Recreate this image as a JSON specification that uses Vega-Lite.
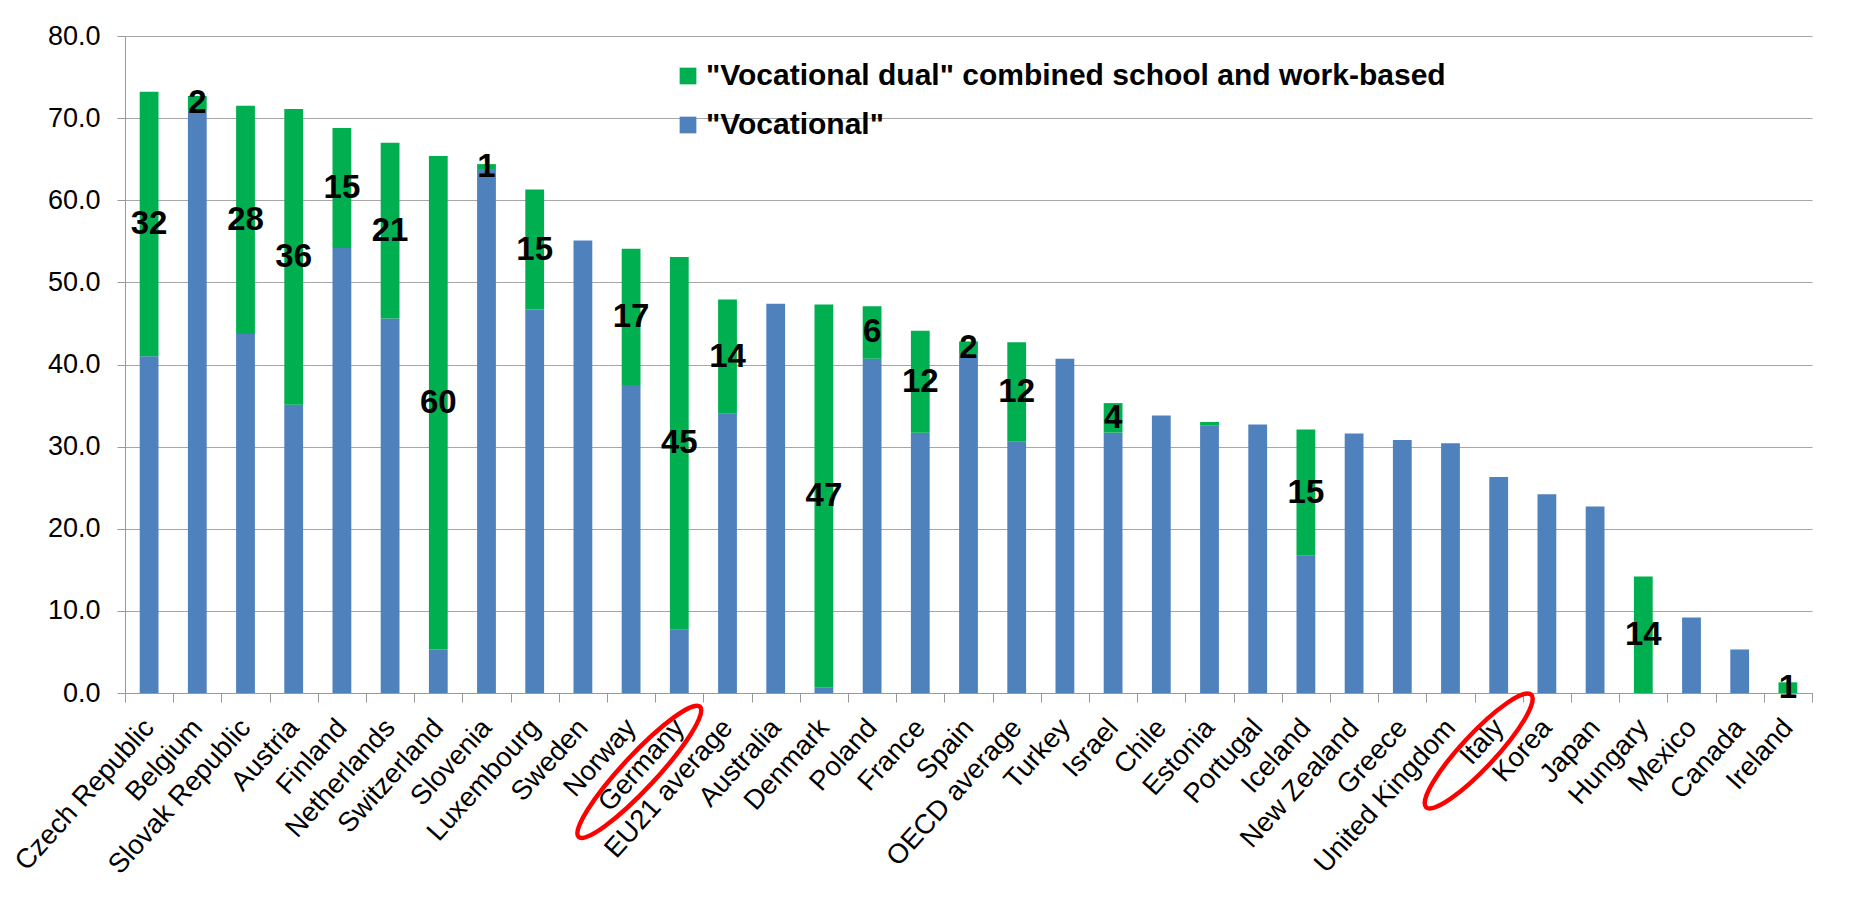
{
  "$schema": "https://vega.github.io/schema/vega-lite/v6.json",
  "autosize": {"type": "none"},
  "width": 1687,
  "height": 657,
  "padding": {"left": 125, "top": 36, "right": 49, "bottom": 230},
  "background": "white",
  "config": {
    "view": {"stroke": null},
    "font": "Liberation Sans",
    "legend": {"labelFont": "Liberation Sans"},
    "axis": {"labelFont": "Liberation Sans"}
  },
  "datasets": {
    "main": [
      {"country": "Czech Republic", "series": "\"Vocational\"", "value": 41.0},
      {"country": "Czech Republic", "series": "\"Vocational dual\" combined school and work-based", "value": 32.2},
      {"country": "Belgium", "series": "\"Vocational\"", "value": 70.9},
      {"country": "Belgium", "series": "\"Vocational dual\" combined school and work-based", "value": 1.8},
      {"country": "Slovak Republic", "series": "\"Vocational\"", "value": 43.7},
      {"country": "Slovak Republic", "series": "\"Vocational dual\" combined school and work-based", "value": 27.8},
      {"country": "Austria", "series": "\"Vocational\"", "value": 35.1},
      {"country": "Austria", "series": "\"Vocational dual\" combined school and work-based", "value": 36.0},
      {"country": "Finland", "series": "\"Vocational\"", "value": 54.2},
      {"country": "Finland", "series": "\"Vocational dual\" combined school and work-based", "value": 14.6},
      {"country": "Netherlands", "series": "\"Vocational\"", "value": 45.6},
      {"country": "Netherlands", "series": "\"Vocational dual\" combined school and work-based", "value": 21.4},
      {"country": "Switzerland", "series": "\"Vocational\"", "value": 5.3},
      {"country": "Switzerland", "series": "\"Vocational dual\" combined school and work-based", "value": 60.1},
      {"country": "Slovenia", "series": "\"Vocational\"", "value": 63.7},
      {"country": "Slovenia", "series": "\"Vocational dual\" combined school and work-based", "value": 0.7},
      {"country": "Luxembourg", "series": "\"Vocational\"", "value": 46.7},
      {"country": "Luxembourg", "series": "\"Vocational dual\" combined school and work-based", "value": 14.6},
      {"country": "Sweden", "series": "\"Vocational\"", "value": 55.1},
      {"country": "Norway", "series": "\"Vocational\"", "value": 37.5},
      {"country": "Norway", "series": "\"Vocational dual\" combined school and work-based", "value": 16.6},
      {"country": "Germany", "series": "\"Vocational\"", "value": 7.7},
      {"country": "Germany", "series": "\"Vocational dual\" combined school and work-based", "value": 45.4},
      {"country": "EU21 average", "series": "\"Vocational\"", "value": 34.0},
      {"country": "EU21 average", "series": "\"Vocational dual\" combined school and work-based", "value": 13.9},
      {"country": "Australia", "series": "\"Vocational\"", "value": 47.4},
      {"country": "Denmark", "series": "\"Vocational\"", "value": 0.7},
      {"country": "Denmark", "series": "\"Vocational dual\" combined school and work-based", "value": 46.6},
      {"country": "Poland", "series": "\"Vocational\"", "value": 40.7},
      {"country": "Poland", "series": "\"Vocational dual\" combined school and work-based", "value": 6.4},
      {"country": "France", "series": "\"Vocational\"", "value": 31.7},
      {"country": "France", "series": "\"Vocational dual\" combined school and work-based", "value": 12.4},
      {"country": "Spain", "series": "\"Vocational\"", "value": 41.2},
      {"country": "Spain", "series": "\"Vocational dual\" combined school and work-based", "value": 1.6},
      {"country": "OECD average", "series": "\"Vocational\"", "value": 30.6},
      {"country": "OECD average", "series": "\"Vocational dual\" combined school and work-based", "value": 12.1},
      {"country": "Turkey", "series": "\"Vocational\"", "value": 40.7},
      {"country": "Israel", "series": "\"Vocational\"", "value": 31.7},
      {"country": "Israel", "series": "\"Vocational dual\" combined school and work-based", "value": 3.6},
      {"country": "Chile", "series": "\"Vocational\"", "value": 33.8},
      {"country": "Estonia", "series": "\"Vocational\"", "value": 32.6},
      {"country": "Estonia", "series": "\"Vocational dual\" combined school and work-based", "value": 0.4},
      {"country": "Portugal", "series": "\"Vocational\"", "value": 32.7},
      {"country": "Iceland", "series": "\"Vocational\"", "value": 16.7},
      {"country": "Iceland", "series": "\"Vocational dual\" combined school and work-based", "value": 15.4},
      {"country": "New Zealand", "series": "\"Vocational\"", "value": 31.6},
      {"country": "Greece", "series": "\"Vocational\"", "value": 30.8},
      {"country": "United Kingdom", "series": "\"Vocational\"", "value": 30.4},
      {"country": "Italy", "series": "\"Vocational\"", "value": 26.3},
      {"country": "Korea", "series": "\"Vocational\"", "value": 24.2},
      {"country": "Japan", "series": "\"Vocational\"", "value": 22.7},
      {"country": "Hungary", "series": "\"Vocational dual\" combined school and work-based", "value": 14.2},
      {"country": "Mexico", "series": "\"Vocational\"", "value": 9.2},
      {"country": "Canada", "series": "\"Vocational\"", "value": 5.3},
      {"country": "Ireland", "series": "\"Vocational dual\" combined school and work-based", "value": 1.3}
    ]
  },
  "layer": [
    {
      "data": {"name": "main"},
      "mark": {"type": "bar", "width": {"band": 0.39}},
      "encoding": {
        "x": {
          "field": "country", "type": "nominal", "sort": null, "title": null,
          "scale": {"paddingInner": 0, "paddingOuter": 0},
          "axis": {
            "labelAngle": -48, "labelFontSize": 27.5, "labelColor": "black",
            "labelAlign": "right", "labelBaseline": "middle", "labelPadding": 21,
            "labelLimit": 400, "labelOverlap": false,
            "tickBand": "extent", "tickSize": 9, "tickColor": "#999999",
            "domainColor": "#999999", "grid": false
          }
        },
        "y": {
          "field": "value", "type": "quantitative", "stack": "zero", "title": null,
          "scale": {"domain": [0, 80], "nice": false},
          "axis": {
            "values": [0, 10, 20, 30, 40, 50, 60, 70, 80], "format": ".1f",
            "labelFontSize": 27, "labelColor": "black", "labelPadding": 17,
            "tickSize": 8, "tickColor": "#999999", "domainColor": "#999999",
            "grid": true, "gridColor": "#a6a6a6", "gridWidth": 1
          }
        },
        "color": {
          "field": "series", "type": "nominal",
          "scale": {
            "domain": ["\"Vocational dual\" combined school and work-based", "\"Vocational\""],
            "range": ["#00B050", "#4F81BD"]
          },
          "legend": {
            "title": null, "orient": "none", "legendX": 548, "legendY": 25,
            "symbolType": "square", "symbolSize": 280, "symbolStrokeWidth": 0, "symbolOpacity": 1,
            "labelFontSize": 30, "labelFontWeight": "bold", "labelColor": "black",
            "labelOffset": 3, "labelLimit": 1000, "rowPadding": 19, "padding": 0
          }
        },
        "order": {"field": "series", "sort": "descending"}
      }
    },
    {
      "data": {"name": "main"},
      "mark": {"type": "text", "fontSize": 33, "fontWeight": "bold", "color": "black", "baseline": "middle", "align": "center"},
      "encoding": {
        "x": {"field": "country", "type": "nominal", "sort": null},
        "y": {"field": "value", "type": "quantitative", "stack": "zero", "bandPosition": 0.5},
        "detail": {"field": "series"},
        "order": {"field": "series", "sort": "descending"},
        "text": {
          "condition": {"test": "datum.value >= 0.5 && indexof(datum.series, 'dual') >= 0", "field": "value", "type": "quantitative", "format": ".0f"},
          "value": ""
        }
      }
    },
    {
      "data": {"values": [{"country": "Germany"}]},
      "mark": {
        "type": "point", "shape": "M-1,0A1,0.19,0,1,0,1,0A1,0.19,0,1,0,-1,0Z",
        "size": 31684, "angle": -47, "filled": false, "stroke": "#FF0000",
        "strokeWidth": 4.5, "opacity": 1, "xOffset": -40
      },
      "encoding": {
        "x": {"field": "country", "type": "nominal", "sort": null},
        "y": {"datum": -9.6, "type": "quantitative"}
      }
    },
    {
      "data": {"values": [{"country": "Italy"}]},
      "mark": {
        "type": "point", "shape": "M-1,0A1,0.22,0,1,0,1,0A1,0.22,0,1,0,-1,0Z",
        "size": 23716, "angle": -47, "filled": false, "stroke": "#FF0000",
        "strokeWidth": 4.5, "opacity": 1, "xOffset": -20
      },
      "encoding": {
        "x": {"field": "country", "type": "nominal", "sort": null},
        "y": {"datum": -7.06, "type": "quantitative"}
      }
    }
  ]
}
